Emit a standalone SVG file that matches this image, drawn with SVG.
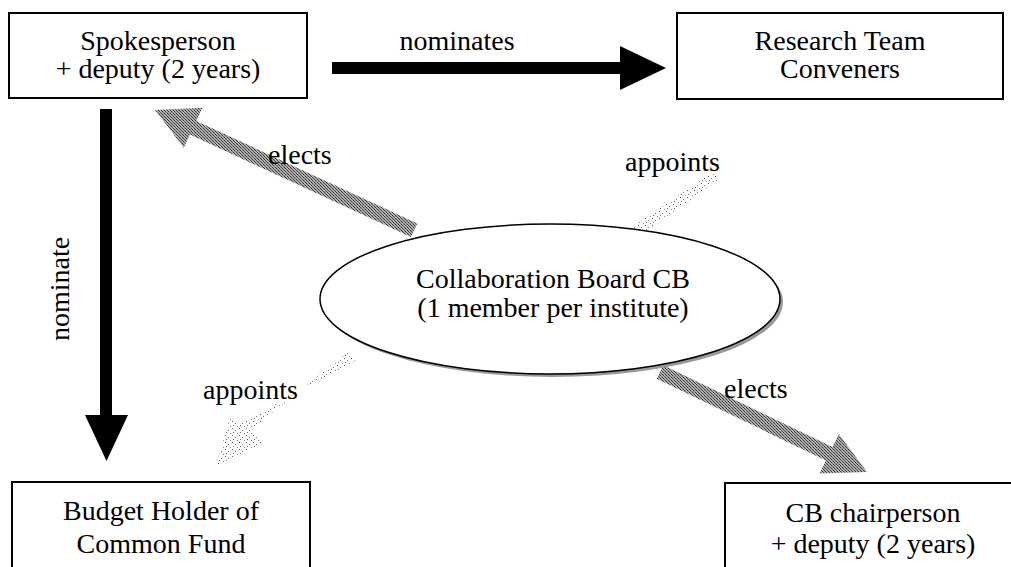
<svg xmlns="http://www.w3.org/2000/svg" width="1011" height="567" viewBox="0 0 1011 567">
<style>
.box{fill:#fff;stroke:#000;stroke-width:2}
.t{font-family:"Liberation Serif","Times New Roman",serif;font-size:28px;fill:#000}
.c{text-anchor:middle}
.black{fill:#000}
.gray{fill:url(#dither)}
.stip{fill:url(#stipple)}
</style>
<defs>
<pattern id="dither" width="3" height="3" patternUnits="userSpaceOnUse">
<rect width="3" height="3" fill="#b0b0b0"/>
<rect x="0" y="0" width="1" height="1" fill="#333"/>
<rect x="1" y="1" width="1" height="1" fill="#555"/>
<rect x="2" y="2" width="1" height="1" fill="#333"/>
</pattern>
<pattern id="stipple" width="7" height="7" patternUnits="userSpaceOnUse">
<rect x="1" y="1" width="1" height="1" fill="#555"/>
<rect x="4" y="3" width="1" height="1" fill="#777"/>
<rect x="2" y="5" width="1" height="1" fill="#666"/>
<rect x="6" y="6" width="1" height="1" fill="#888"/>
</pattern>
</defs>
<rect width="1011" height="567" fill="#fff"/>
<g id="connectors">
<g id="nominates-arrow">
<rect class="black" x="332" y="62" width="290" height="12"/>
<polygon class="black" points="620,46 666,68 620,90"/>
<text class="t c" x="457" y="50">nominates</text>
</g>
<g id="nominate-arrow">
<rect class="black" x="100" y="109" width="12" height="308"/>
<polygon class="black" points="85,415 128,415 106.5,461"/>
<text class="t c" transform="translate(69,289) rotate(-90)">nominate</text>
</g>
<g id="elects-up">
<polygon class="gray" points="417.3,223.4 196.3,120.9 202.4,107.8 155,110 183.8,147.7 189.9,134.5 410.9,237"/>
<text class="t" x="268" y="164">elects</text>
</g>
<g id="elects-down">
<polygon class="gray" points="663.3,365.2 832.5,447 838.8,433.9 867,472 819.6,473.5 825.9,460.5 656.7,378.8"/>
<text class="t" x="724" y="398">elects</text>
</g>
<g id="appoints-up">
<polygon class="stip" points="631,228 714,171 719,180 637,237"/>
<text class="t" x="625" y="171">appoints</text>
</g>
<g id="appoints-down">
<polygon class="stip" points="349,351 251,430 262,443 216,466 230,417 241,423 355,361"/>
<text class="t" x="203" y="399">appoints</text>
</g>
</g>
<g id="spokesperson">
<rect class="box" x="9" y="13" width="298" height="85"/>
<text class="t c" x="158" y="50">Spokesperson</text>
<text class="t c" x="158" y="78">+ deputy (2 years)</text>
</g>
<g id="research">
<rect class="box" x="677" y="13" width="326" height="86"/>
<text class="t c" x="840" y="50">Research Team</text>
<text class="t c" x="840" y="78">Conveners</text>
</g>
<g id="cb">
<ellipse cx="553" cy="302" rx="230" ry="75" fill="#999"/>
<ellipse cx="550" cy="299" rx="230" ry="75" fill="#fff" stroke="#000" stroke-width="1.5"/>
<text class="t c" x="553" y="288">Collaboration Board CB</text>
<text class="t c" x="553" y="317">(1 member per institute)</text>
</g>
<g id="budget">
<rect class="box" x="12" y="482" width="298" height="100"/>
<text class="t c" x="161" y="520">Budget Holder of</text>
<text class="t c" x="161" y="553">Common Fund</text>
</g>
<g id="chair">
<rect class="box" x="725" y="483" width="300" height="100"/>
<text class="t c" x="873" y="522">CB chairperson</text>
<text class="t c" x="873" y="553">+ deputy (2 years)</text>
</g>
</svg>
